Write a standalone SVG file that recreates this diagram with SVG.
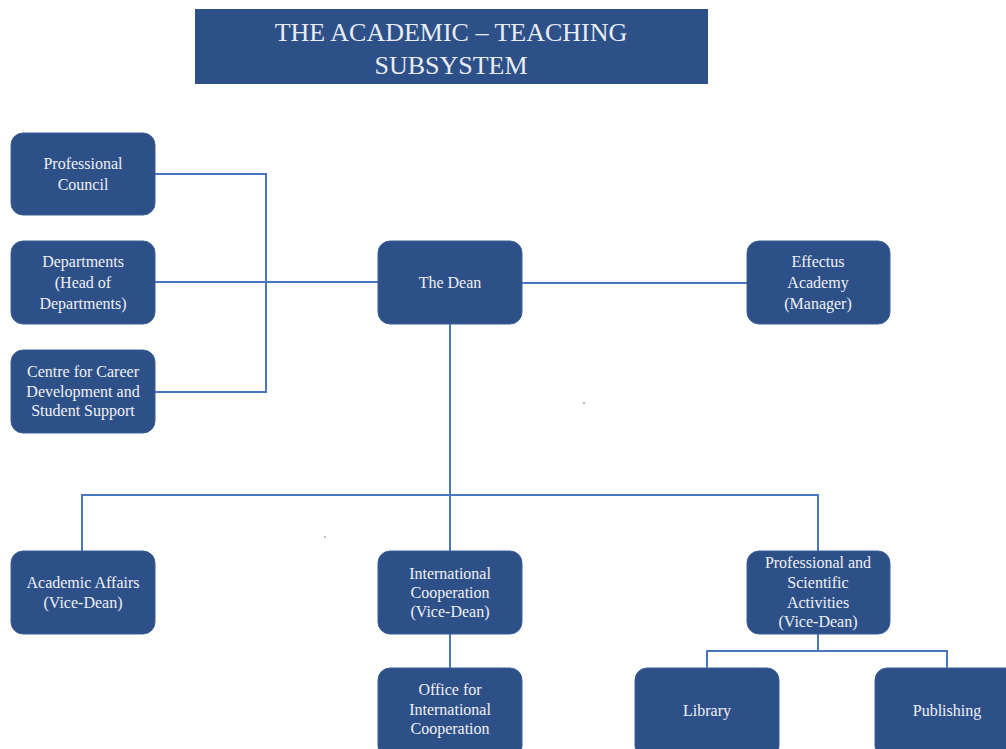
<svg xmlns="http://www.w3.org/2000/svg" width="1006" height="749" viewBox="0 0 1006 749">
<style>
.box{fill:#2E5088;stroke:#3D5F98;stroke-width:1}
.t{font-family:"Liberation Serif","Times New Roman",serif;font-size:16px;fill:#EEF1F6;text-anchor:middle}
.title{font-family:"Liberation Serif","Times New Roman",serif;font-size:26px;fill:#E8ECF3;text-anchor:middle}
.c{fill:none;stroke:#4A76C0;stroke-width:2}
</style>
<rect width="1006" height="749" fill="#FFFFFF"/>
<g id="title">
<rect x="195" y="9" width="513" height="75" fill="#2E5088"/>
<text class="title" x="451" y="41">THE ACADEMIC – TEACHING</text>
<text class="title" x="451" y="74">SUBSYSTEM</text>
</g>
<g id="connectors">
<path class="c" d="M155 174 H266 V392 H155"/>
<path class="c" d="M155 282 H378"/>
<path class="c" d="M522 283 H747"/>
<path class="c" d="M450 324 V551"/>
<path class="c" d="M82 551 V495 H818 V551"/>
<path class="c" d="M450 634 V668"/>
<path class="c" d="M818 634 V651 M707 668 V651 H947 V668"/>
</g>
<g id="professional-council">
<rect class="box" x="11" y="133" width="144" height="82" rx="12"/>
<text class="t" x="83" y="169">Professional</text>
<text class="t" x="83" y="190">Council</text>
</g>
<g id="departments">
<rect class="box" x="11" y="241" width="144" height="83" rx="12"/>
<text class="t" x="83" y="267">Departments</text>
<text class="t" x="83" y="288">(Head of</text>
<text class="t" x="83" y="309">Departments)</text>
</g>
<g id="centre-career">
<rect class="box" x="11" y="350" width="144" height="83" rx="12"/>
<text class="t" x="83" y="377">Centre for Career</text>
<text class="t" x="83" y="397">Development and</text>
<text class="t" x="83" y="416">Student Support</text>
</g>
<g id="dean">
<rect class="box" x="378" y="241" width="144" height="83" rx="12"/>
<text class="t" x="450" y="288">The Dean</text>
</g>
<g id="effectus">
<rect class="box" x="747" y="241" width="143" height="83" rx="12"/>
<text class="t" x="818" y="267">Effectus</text>
<text class="t" x="818" y="288">Academy</text>
<text class="t" x="818" y="309">(Manager)</text>
</g>
<g id="academic-affairs">
<rect class="box" x="11" y="551" width="144" height="83" rx="12"/>
<text class="t" x="83" y="588">Academic Affairs</text>
<text class="t" x="83" y="608">(Vice-Dean)</text>
</g>
<g id="international-cooperation">
<rect class="box" x="378" y="551" width="144" height="83" rx="12"/>
<text class="t" x="450" y="579">International</text>
<text class="t" x="450" y="598">Cooperation</text>
<text class="t" x="450" y="617">(Vice-Dean)</text>
</g>
<g id="office-international">
<rect class="box" x="378" y="668" width="144" height="90" rx="12"/>
<text class="t" x="450" y="695">Office for</text>
<text class="t" x="450" y="715">International</text>
<text class="t" x="450" y="734">Cooperation</text>
</g>
<g id="professional-scientific">
<rect class="box" x="747" y="551" width="143" height="83" rx="12"/>
<text class="t" x="818" y="568">Professional and</text>
<text class="t" x="818" y="588">Scientific</text>
<text class="t" x="818" y="608">Activities</text>
<text class="t" x="818" y="627">(Vice-Dean)</text>
</g>
<g id="library">
<rect class="box" x="635" y="668" width="144" height="90" rx="12"/>
<text class="t" x="707" y="716">Library</text>
</g>
<g id="publishing">
<rect class="box" x="875" y="668" width="144" height="90" rx="12"/>
<text class="t" x="947" y="716">Publishing</text>
</g>
<circle cx="584" cy="403" r="0.8" fill="#555"/>
<circle cx="325" cy="537" r="0.8" fill="#777"/>
</svg>
